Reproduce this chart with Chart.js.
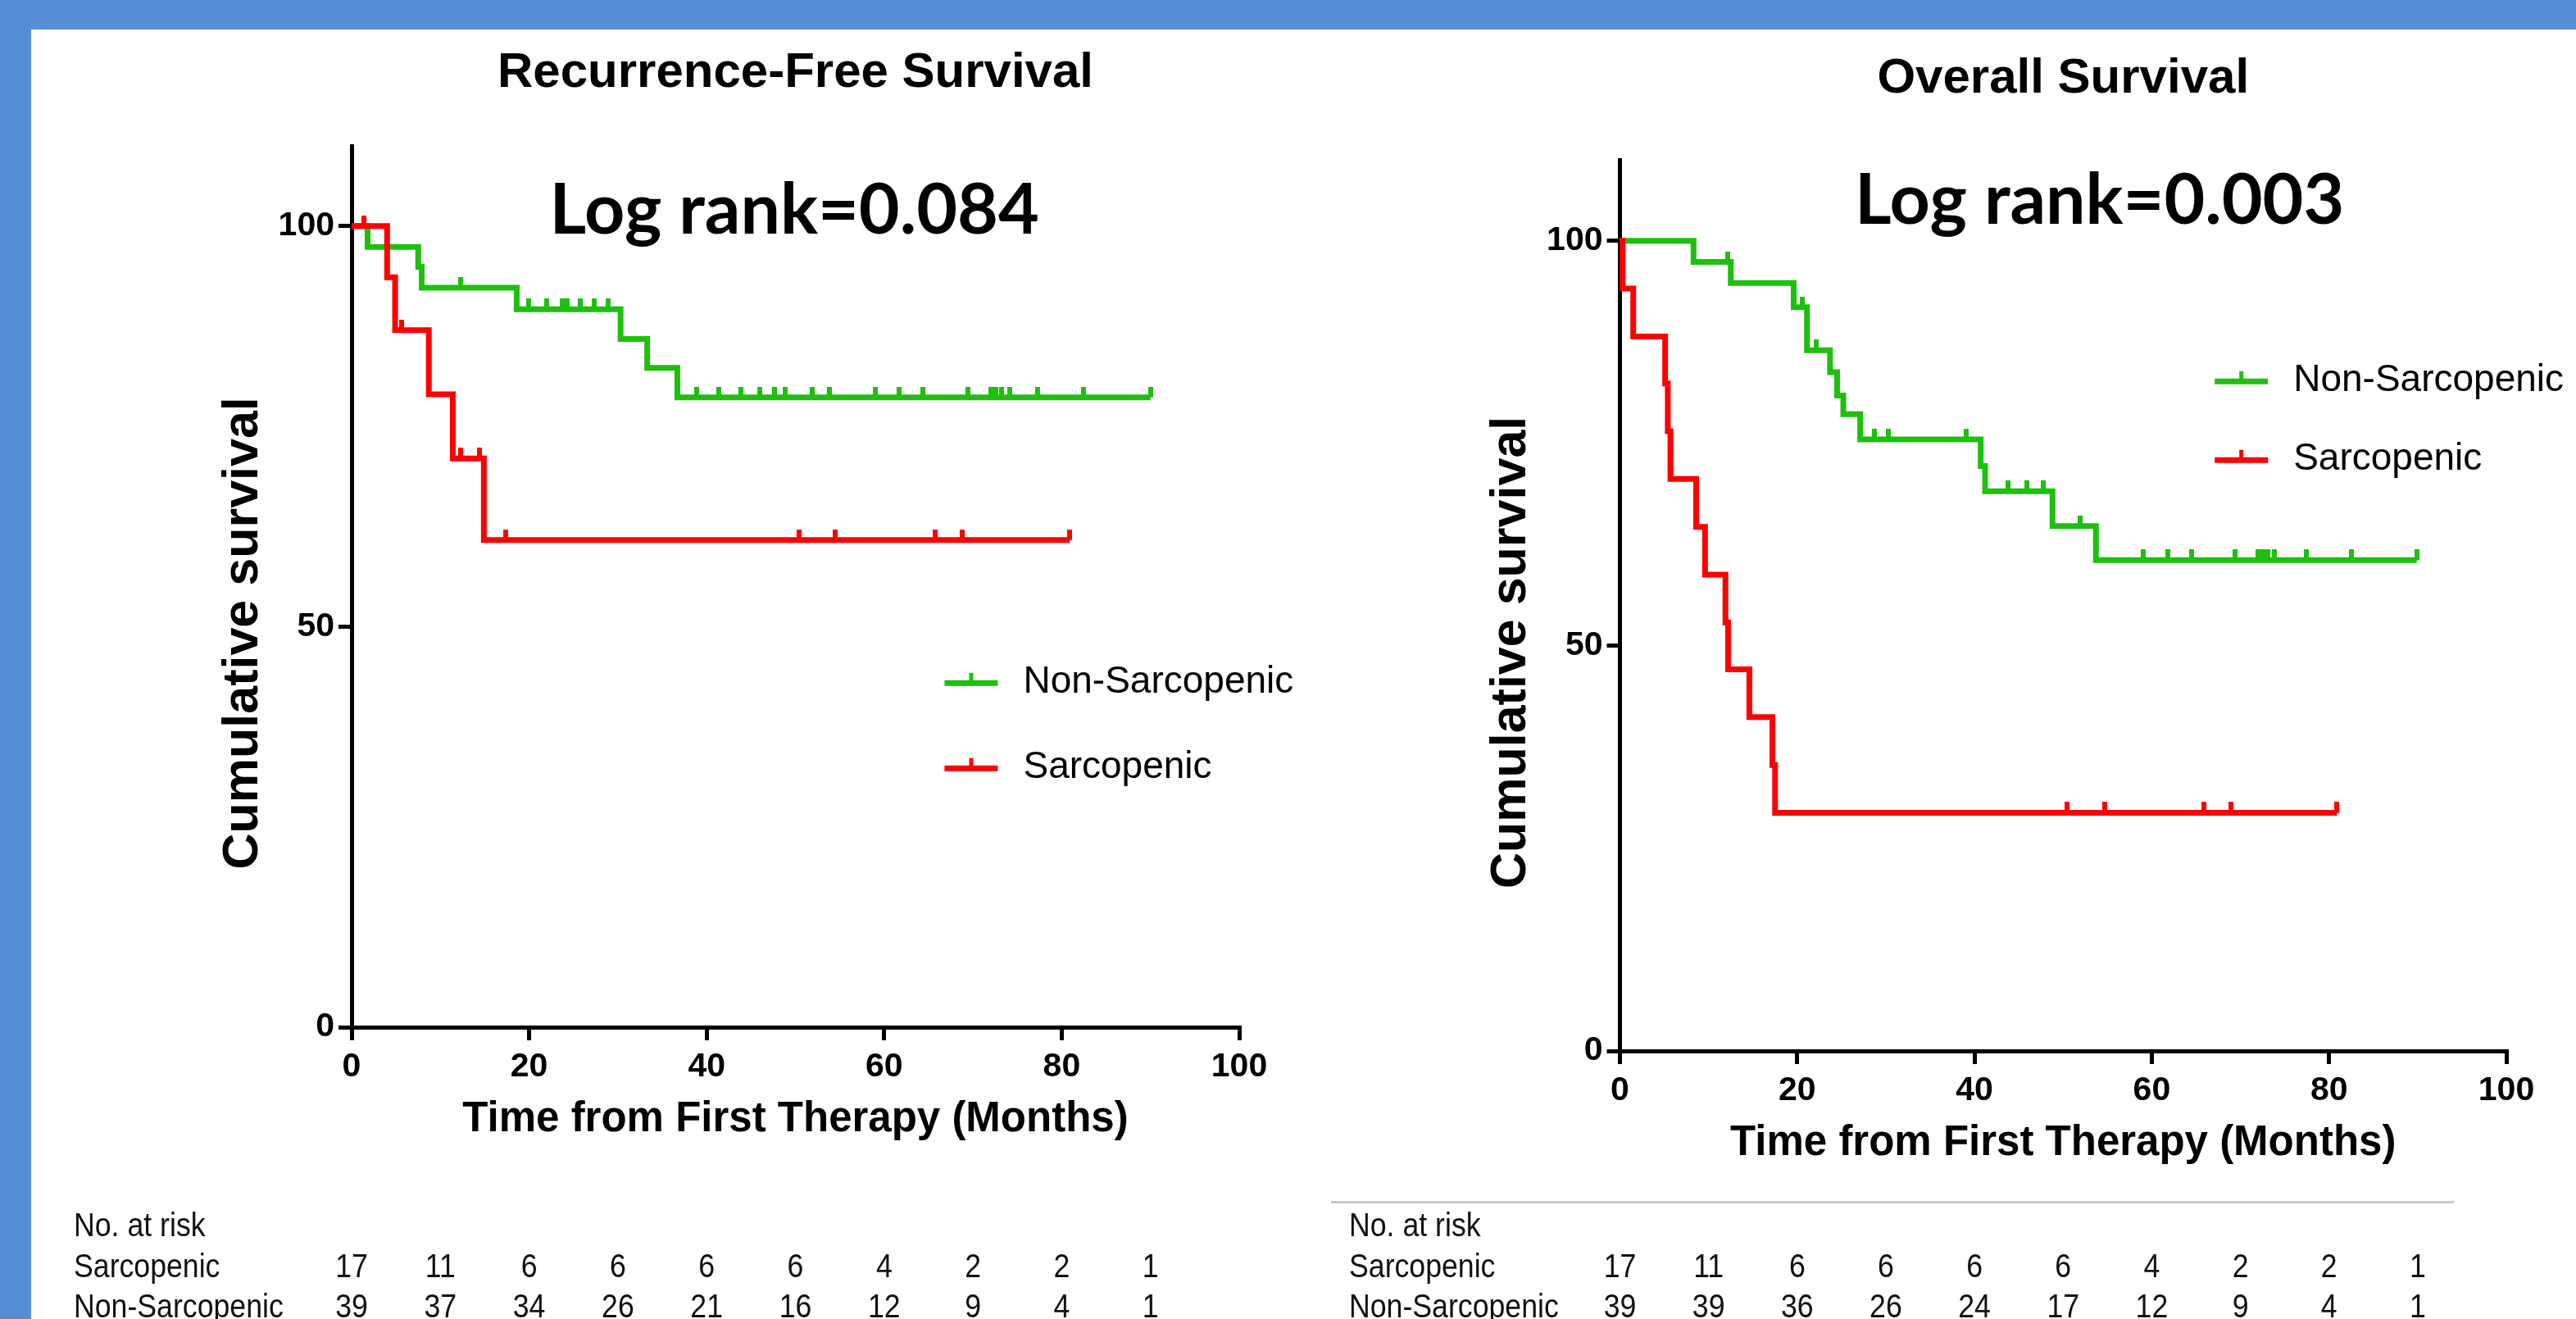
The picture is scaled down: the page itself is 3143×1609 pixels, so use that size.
<!DOCTYPE html>
<html>
<head>
<meta charset="utf-8">
<script src="https://cdn.jsdelivr.net/npm/chart.js@4.4.1/dist/chart.umd.min.js"></script>
<style>
  html, body { margin: 0; padding: 0; }
  body { width: 3143px; height: 1609px; background: #558ed5; position: relative; overflow: hidden; }
  #sheet { position: absolute; left: 38px; top: 36px; right: 0; bottom: 0; background: #fff; }
  canvas { position: absolute; top: 36px; }
  #rfs { left: 38px; }
  #os { left: 1568px; }
</style>
</head>
<body>
<div id="sheet"></div>
<canvas id="rfs" width="1600" height="1573"></canvas>
<canvas id="os" width="1575" height="1573"></canvas>
<script>
// Kaplan-Meier curves: recurrence-free and overall survival, sarcopenic vs non-sarcopenic

const FONT = 'Arial, "Liberation Sans", sans-serif';
const GREEN = '#1ec00e';
const RED = '#ff0000';

const X_TICKS = [0, 20, 40, 60, 80, 100];
const Y_TICKS = [0, 50, 100];
const RISK_TIMES = [0, 10, 20, 30, 40, 50, 60, 70, 80, 90];

// Recurrence-free survival (months, %)
const rfsNonTime = [0, 1.8, 7.5, 7.9, 18.6, 30.3, 33.3, 36.7, 90.0];
const rfsNonSurv = [100, 97.4, 94.9, 92.3, 89.6, 85.9, 82.3, 78.6, 78.6];
const rfsNonCensor = [12.3, 19.9, 22.0, 23.7, 24.3, 25.8, 27.3, 28.9, 38.9, 41.4, 43.9, 46.0, 47.6, 48.8,
  51.9, 53.8, 59.0, 61.7, 64.4, 69.4, 72.0, 72.6, 73.2, 74.1, 77.3, 82.5, 90.0];
const rfsSarcTime = [0, 4.0, 4.9, 8.7, 11.4, 14.9, 80.9];
const rfsSarcSurv = [100, 93.6, 87.0, 79.0, 71.0, 60.8, 60.8];
const rfsSarcCensor = [1.4, 5.6, 12.3, 14.4, 17.4, 50.4, 54.5, 65.7, 68.8, 80.9];
const rfsRiskSarc = [17, 11, 6, 6, 6, 6, 4, 2, 2, 1];
const rfsRiskNon = [39, 37, 34, 26, 21, 16, 12, 9, 4, 1];

// Overall survival (months, %)
const osNonTime = [0, 8.3, 12.5, 19.6, 21.1, 23.7, 24.5, 25.2, 27.1, 40.7, 41.2, 48.8, 53.7, 89.9];
const osNonSurv = [100, 97.4, 94.8, 91.8, 86.5, 83.8, 80.9, 78.6, 75.5, 72.2, 69.1, 64.8, 60.6, 60.6];
const osNonCensor = [12.2, 20.6, 22.1, 28.7, 30.3, 39.1, 43.8, 45.9, 47.8, 51.9, 59.0, 61.8, 64.5,
  69.4, 72.0, 72.5, 73.1, 73.8, 77.4, 82.5, 89.9];
const osSarcTime = [0, 0.3, 1.5, 5.1, 5.4, 5.7, 8.6, 9.6, 11.9, 12.2, 14.6, 17.2, 17.5, 80.9];
const osSarcSurv = [100, 94.1, 88.2, 82.4, 76.5, 70.6, 64.7, 58.8, 52.9, 47.1, 41.2, 35.3, 29.4, 29.4];
const osSarcCensor = [50.4, 54.7, 65.9, 68.9, 80.9];
const osRiskSarc = [17, 11, 6, 6, 6, 6, 4, 2, 2, 1];
const osRiskNon = [39, 39, 36, 26, 24, 17, 12, 9, 4, 1];

function survAt(times, surv, t) {
  let s = surv[0];
  times.forEach((tt, i) => { if (tt <= t) s = surv[i]; });
  return s;
}

// small upward tick used as the censor marker
function censorMark(color) {
  const c = document.createElement('canvas');
  c.width = 6;
  c.height = 26;
  const g = c.getContext('2d');
  g.fillStyle = color;
  g.fillRect(0, 0, 6, 13);
  return c;
}

function curve(label, times, surv, color, order) {
  return {
    label,
    data: times.map((t, i) => ({ x: t, y: surv[i] })),
    borderColor: color,
    borderWidth: 7,
    stepped: true,
    pointRadius: 0,
    fill: false,
    clip: false,
    order,
  };
}

function censors(times, stepT, stepS, color, order) {
  return {
    label: '',
    data: times.map(t => ({ x: t, y: survAt(stepT, stepS, t) })),
    showLine: false,
    pointStyle: censorMark(color),
    pointRadius: 3,
    borderColor: color,
    backgroundColor: color,
    clip: false,
    order,
  };
}

function panelPlugin(cfg) {
  return {
    id: 'panel',
    afterDraw(chart) {
      const { ctx, chartArea, scales: { x, y } } = chart;
      ctx.save();
      ctx.fillStyle = '#000';

      // y axis title, centred on the 0-100 range
      ctx.save();
      ctx.translate(chartArea.left - 132, (y.getPixelForValue(0) + y.getPixelForValue(100)) / 2 + 8);
      ctx.rotate(-Math.PI / 2);
      ctx.font = 'bold 61px ' + FONT;
      ctx.textAlign = 'center';
      ctx.textBaseline = 'middle';
      ctx.fillText('Cumulative survival', 0, 0);
      ctx.restore();

      // log rank annotation
      ctx.font = 'bold 86px Lato, "Open Sans", sans-serif';
      ctx.textAlign = 'left';
      ctx.textBaseline = 'alphabetic';
      ctx.fillText(cfg.logRank, x.getPixelForValue(cfg.logRankAt[0]), y.getPixelForValue(cfg.logRankAt[1]));

      // legend
      const lines = chart.data.datasets.filter(d => d.showLine !== false);
      const lx = x.getPixelForValue(cfg.legendAt[0]);
      lines.forEach((d, i) => {
        const ly = y.getPixelForValue(cfg.legendAt[1]) + i * cfg.legendGap;
        ctx.fillStyle = d.borderColor;
        ctx.fillRect(lx, ly - 3, 65, 7);
        ctx.fillRect(lx + 30, ly - 12, 5, 10);
        ctx.fillStyle = '#000';
        ctx.font = '46px ' + FONT;
        ctx.textBaseline = 'middle';
        ctx.fillText(d.label, lx + 96, ly);
      });

      // number at risk table
      const rows = [
        ['No. at risk', null],
        ['Sarcopenic', cfg.riskSarc],
        ['Non-Sarcopenic', cfg.riskNon],
      ];
      ctx.font = '41px ' + FONT;
      ctx.fillStyle = '#111';
      ctx.textBaseline = 'alphabetic';
      rows.forEach(([name, vals], r) => {
        const by = cfg.tableTop + r * 49.5;
        ctx.save();
        ctx.translate(cfg.tableLeft, by);
        ctx.scale(0.87, 1);
        ctx.textAlign = 'left';
        ctx.fillText(name, 0, 0);
        ctx.restore();
        if (!vals) return;
        vals.forEach((v, k) => {
          ctx.save();
          ctx.translate(x.getPixelForValue(RISK_TIMES[k]), by);
          ctx.scale(0.87, 1);
          ctx.textAlign = 'center';
          ctx.fillText(String(v), 0, 0);
          ctx.restore();
        });
      });
      if (cfg.tableRule) {
        ctx.fillStyle = '#c8c8c8';
        ctx.fillRect(cfg.tableRule[0], cfg.tableRule[1], cfg.tableRule[2], 3);
      }
      ctx.restore();
    }
  };
}

function axisOpts(extra) {
  return {
    type: 'linear',
    bounds: 'data',
    grid: { display: true, drawOnChartArea: false, drawTicks: true, tickLength: 16, lineWidth: 5, tickWidth: 5, tickColor: '#000' },
    border: { display: true, width: 5, color: '#000' },
    ...extra,
  };
}

function makeKM(canvasId, cfg) {
  const ctx = document.getElementById(canvasId);
  if (!ctx) return;

  return new Chart(ctx, {
    type: 'line',
    data: {
      datasets: [
        curve('Non-Sarcopenic', cfg.nonTime, cfg.nonSurv, GREEN, 3),
        censors(cfg.nonCensor, cfg.nonTime, cfg.nonSurv, GREEN, 2),
        curve('Sarcopenic', cfg.sarcTime, cfg.sarcSurv, RED, 1),
        censors(cfg.sarcCensor, cfg.sarcTime, cfg.sarcSurv, RED, 0),
      ]
    },
    options: {
      responsive: false,
      devicePixelRatio: 1,
      animation: false,
      events: [],
      layout: { autoPadding: false, padding: cfg.padding },
      plugins: {
        legend: { display: false },
        tooltip: { enabled: false },
        title: {
          display: true,
          text: cfg.title,
          fullSize: false,
          color: '#000',
          font: { family: FONT, size: 60, weight: 'bold' },
          padding: cfg.titlePad,
        }
      },
      scales: {
        x: axisOpts({
          min: 0, max: 100,
          afterBuildTicks: s => { s.ticks = X_TICKS.map(v => ({ value: v })); },
          afterFit: s => { s.height = 143.6; },
          ticks: { color: '#000', padding: 8, maxRotation: 0, autoSkip: false, font: { family: FONT, size: 41, weight: 'bold' } },
          title: {
            display: true,
            text: 'Time from First Therapy (Months)',
            color: '#000',
            padding: 0,
            font: { family: FONT, size: 51, weight: 'bold' },
          },
        }),
        y: axisOpts({
          min: 0, max: 110,
          afterBuildTicks: s => { s.ticks = Y_TICKS.map(v => ({ value: v })); },
          afterFit: s => { s.width = 150; },
          ticks: { color: '#000', padding: 5, font: { family: FONT, size: 41, weight: 'bold' } },
        }),
      }
    },
    plugins: [panelPlugin(cfg)]
  });
}

makeKM('rfs', {
  title: 'Recurrence-Free Survival',
  nonTime: rfsNonTime, nonSurv: rfsNonSurv, nonCensor: rfsNonCensor,
  sarcTime: rfsSarcTime, sarcSurv: rfsSarcSurv, sarcCensor: rfsSarcCensor,
  riskSarc: rfsRiskSarc, riskNon: rfsRiskNon,
  logRank: 'Log rank=0.084', logRankAt: [22.3, 99.1],
  legendAt: [66.8, 43.0], legendGap: 104,
  padding: { left: 241, right: 126, top: 0, bottom: 212.4 },
  titlePad: { top: 17, bottom: 53 },
  tableLeft: 52, tableTop: 1472,
});

makeKM('os', {
  title: 'Overall Survival',
  nonTime: osNonTime, nonSurv: osNonSurv, nonCensor: osNonCensor,
  sarcTime: osSarcTime, sarcSurv: osSarcSurv, sarcCensor: osSarcCensor,
  riskSarc: osRiskSarc, riskNon: osRiskNon,
  logRank: 'Log rank=0.003', logRankAt: [26.5, 102.1],
  legendAt: [67.1, 82.7], legendGap: 96,
  padding: { left: 258.5, right: 85, top: 0, bottom: 183.4 },
  titlePad: { top: 24, bottom: 63 },
  tableLeft: 78, tableTop: 1472,
  tableRule: [56, 1429, 1370],
});
</script>
</body>
</html>
